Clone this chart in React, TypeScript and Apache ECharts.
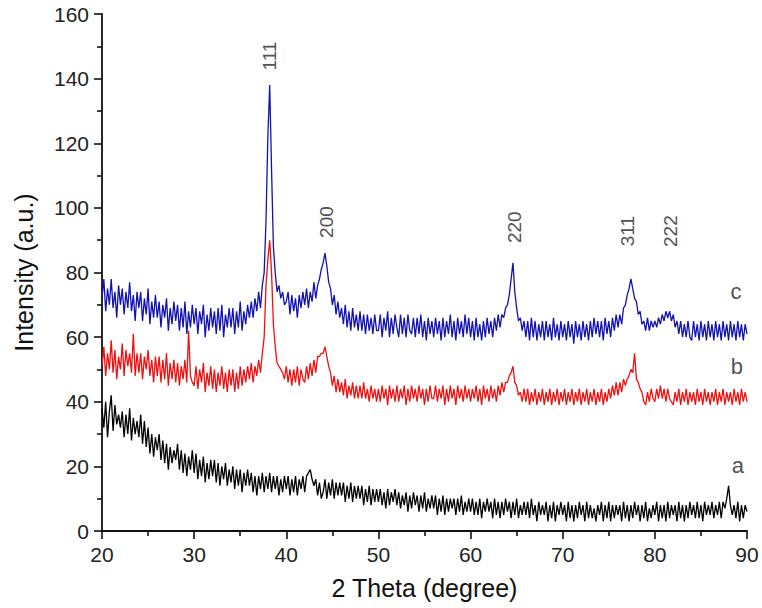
import React, { useEffect, useRef } from "react";
import * as echarts from "echarts";

// 2θ sampling grid: 20 → 90 degrees, 0.2° step
const THETA_START = 20;
const THETA_STEP = 0.2;

// Sample c (blue)
const seriesC = [
  72,78,68,75,70,78,69,74,66,76,
  70,75,67,74,69,77,68,73,65,74,
  69,74,65,72,67,75,64,71,66,73,
  66,71,63,70,66,72,62,69,64,71,
  65,70,62,69,63,71,61,68,63,70,
  64,69,61,68,64,70,60,67,62,69,
  63,68,61,69,62,70,60,67,63,69,
  63,69,61,68,63,71,62,68,64,70,
  66,71,66,72,68,74,69,76,80,96,
  122,138,112,88,80,74,76,72,74,70,
  71,74,67,73,68,72,66,73,69,74,
  70,75,69,74,71,77,72,76,78,81,
  83,86,82,77,75,70,73,67,71,66,
  69,64,70,63,68,62,69,63,67,62,
  68,62,67,61,67,62,66,61,67,62,
  62,67,60,66,62,68,60,66,61,67,
  63,60,67,61,66,60,67,62,61,66,
  60,66,61,67,60,65,59,66,61,65,
  60,66,61,65,59,66,60,65,61,67,
  60,65,59,66,61,65,60,67,61,66,
  60,65,59,66,60,64,59,65,60,66,
  61,65,60,66,62,67,63,67,66,69,
  70,73,78,83,74,69,65,66,62,65,
  60,65,59,66,60,65,59,64,60,65,
  59,65,60,64,59,66,60,64,59,65,
  60,64,59,65,60,64,58,65,60,64,
  59,65,60,64,59,65,60,66,61,65,
  60,65,59,66,61,65,60,66,62,67,
  63,67,64,69,70,73,75,78,75,72,
  71,67,68,64,65,62,66,62,65,63,
  65,63,66,64,67,65,68,66,68,65,
  67,63,65,61,65,60,64,60,65,60,
  59,65,60,64,59,65,60,64,59,65,
  60,64,59,65,60,64,59,65,60,64,
  59,65,60,64,59,65,60,64,59,64,
  61,
];

// Sample b (red)
const seriesB = [
  51,57,48,55,50,59,49,56,47,54,
  50,58,48,56,51,55,49,61,48,55,
  49,55,47,54,50,56,48,53,46,54,
  48,54,46,53,47,55,45,52,47,53,
  46,52,45,51,47,53,46,62,48,46,
  45,51,44,50,46,52,43,49,45,51,
  44,50,43,49,45,51,44,49,43,50,
  45,50,43,49,44,51,45,50,46,51,
  47,52,46,51,48,53,49,55,60,76,
  84,90,80,64,57,52,51,50,49,47,
  51,46,50,45,50,46,51,45,50,47,
  46,51,47,52,48,53,49,54,54,55,
  55,57,54,51,49,45,48,43,47,43,
  46,42,47,41,45,42,46,41,45,41,
  45,41,46,41,44,40,45,41,44,40,
  44,40,45,41,44,39,45,41,44,40,
  45,40,44,41,45,39,44,40,45,41,
  44,40,45,41,44,39,44,40,45,41,
  41,45,40,44,41,45,39,44,40,45,
  41,44,39,45,41,44,40,45,41,44,
  40,44,41,45,40,44,39,45,41,44,
  40,45,41,44,40,45,42,46,43,46,
  46,48,49,51,46,45,42,43,40,44,
  40,44,39,43,40,44,39,43,40,44,
  39,43,40,44,39,43,40,44,39,43,
  40,44,39,43,40,44,39,43,40,44,
  39,43,40,44,39,43,40,44,39,43,
  40,44,39,43,40,44,41,45,42,46,
  42,46,43,47,45,47,48,50,49,55,
  47,46,44,43,40,39,43,40,44,41,
  40,44,41,45,41,44,40,44,41,40,
  39,43,40,44,39,43,40,44,39,43,
  40,43,39,44,40,43,39,44,40,43,
  39,43,40,44,39,43,40,44,39,43,
  40,43,39,44,40,43,39,44,40,43,
  40,
];

// Sample a (black)
const seriesA = [
  38,32,40,29,37,42,31,39,33,36,
  32,37,29,36,30,38,28,35,30,34,
  29,36,27,34,26,32,24,30,23,29,
  25,30,22,28,21,27,19,26,21,25,
  22,27,19,25,18,24,17,23,19,25,
  18,24,16,22,17,23,15,21,16,22,
  17,22,15,21,14,20,16,21,14,19,
  15,20,13,19,14,19,12,18,14,19,
  14,18,12,17,11,17,13,18,12,17,
  13,18,12,17,13,17,11,16,12,17,
  13,17,11,16,12,17,11,16,13,17,
  12,17,18,19,16,14,16,11,15,10,
  12,16,10,15,11,16,10,15,11,15,
  11,15,9,14,10,15,9,14,10,14,
  10,14,8,13,9,14,8,13,9,13,
  9,13,8,12,7,13,8,12,9,13,
  8,12,7,11,8,12,6,11,7,12,
  8,11,6,11,7,12,6,10,7,11,
  7,11,5,10,6,11,5,10,6,10,
  7,10,5,10,6,11,5,9,6,10,
  6,10,5,9,5,10,4,9,6,10,
  6,9,4,10,5,9,4,9,5,10,
  6,9,4,9,5,10,4,8,5,9,
  5,9,4,10,5,8,3,9,5,8,
  5,9,3,8,4,9,3,8,5,9,
  5,8,3,9,4,8,3,8,4,9,
  5,8,3,9,4,8,4,7,3,8,
  5,9,3,8,4,9,3,8,4,8,
  5,8,3,9,4,8,3,8,4,9,
  5,8,3,8,4,9,3,7,4,8,
  5,9,3,8,4,8,3,9,4,8,
  5,8,3,9,4,8,3,8,4,9,
  5,8,4,9,4,8,3,9,5,8,
  5,9,4,8,5,9,4,9,7,10,
  14,8,5,8,4,9,3,8,4,8,
  6,
];

// Peak (hkl) annotations: [2θ, intensity, label]
const peakLabels: [number, number, string][] = [
  [38.15, 147, "111"],
  [44.35, 95.6, "200"],
  [64.8, 94, "220"],
  [77.07, 92.8, "311"],
  [81.7, 92.8, "222"],
];

// Curve labels: [2θ, intensity, label]
const curveLabels: [number, number, string][] = [
  [88.8, 74, "c"],
  [88.9, 50.8, "b"],
  [89.0, 20.4, "a"],
];

const xTicks = [20, 30, 40, 50, 60, 70, 80, 90];
const yTicks = [0, 20, 40, 60, 80, 100, 120, 140, 160];

const FONT = "'Liberation Sans', Arial, sans-serif";

function toPairs(values: number[]) {
  return values.map((v, i) => [
    +(THETA_START + i * THETA_STEP).toFixed(2),
    v,
  ]);
}

export default function App() {
  const ref = useRef<HTMLDivElement>(null);

  useEffect(() => {
    if (!ref.current) return;
    const chart = echarts.init(ref.current, undefined, { renderer: "svg" });
    const lineSeries = (name: string, values: number[], color: string) => ({
      name,
      type: "line",
      data: toPairs(values),
      showSymbol: false,
      symbol: "none",
      lineStyle: { color, width: 1.3 },
      z: 2,
    });
    const axisCommon = {
      axisLine: { show: true, onZero: false, lineStyle: { color: "#111", width: 1.8 } },
      axisTick: { show: true, inside: false, length: 8, lineStyle: { color: "#111", width: 1.6 } },
      minorTick: { show: true, splitNumber: 2, length: 5, lineStyle: { color: "#111", width: 1.6 } },
      splitLine: { show: false },
      axisLabel: { fontFamily: FONT, fontSize: 21, color: "#222", margin: 13 },
    };
    chart.setOption({
      animation: false,
      backgroundColor: "#ffffff",
      grid: { left: 102, right: 15, top: 14, bottom: 77, containLabel: false },
      xAxis: {
        type: "value",
        min: xTicks[0],
        max: xTicks[xTicks.length - 1],
        interval: 10,
        name: "2 Theta (degree)",
        nameLocation: "middle",
        nameGap: 44,
        nameTextStyle: { fontFamily: FONT, fontSize: 25, color: "#111" },
        ...axisCommon,
      },
      yAxis: {
        type: "value",
        min: yTicks[0],
        max: yTicks[yTicks.length - 1],
        interval: 20,
        name: "Intensity (a.u.)",
        nameLocation: "middle",
        nameGap: 66,
        nameRotate: 90,
        nameTextStyle: { fontFamily: FONT, fontSize: 25, color: "#111" },
        ...axisCommon,
      },
      series: [
        lineSeries("a", seriesA, "#000000"),
        lineSeries("b", seriesB, "#f01010"),
        lineSeries("c", seriesC, "#1212b0"),
        {
          type: "scatter",
          symbolSize: 0,
          data: peakLabels.map(([x, y, t]) => ({ value: [x, y], name: t })),
          label: {
            show: true,
            position: "inside",
            rotate: 90,
            formatter: (p: any) => p.name,
            fontFamily: FONT,
            fontSize: 19,
            color: "#222",
          },
          silent: true,
          z: 5,
        },
        {
          type: "scatter",
          symbolSize: 0,
          data: curveLabels.map(([x, y, t]) => ({ value: [x, y], name: t })),
          label: {
            show: true,
            position: "inside",
            formatter: (p: any) => p.name,
            fontFamily: FONT,
            fontSize: 22,
            color: "#222",
          },
          silent: true,
          z: 5,
        },
      ],
    });
    return () => chart.dispose();
  }, []);

  return (
    <div
      ref={ref}
      style={{ position: "absolute", left: 0, top: 0, width: 762, height: 608 }}
    />
  );
}
